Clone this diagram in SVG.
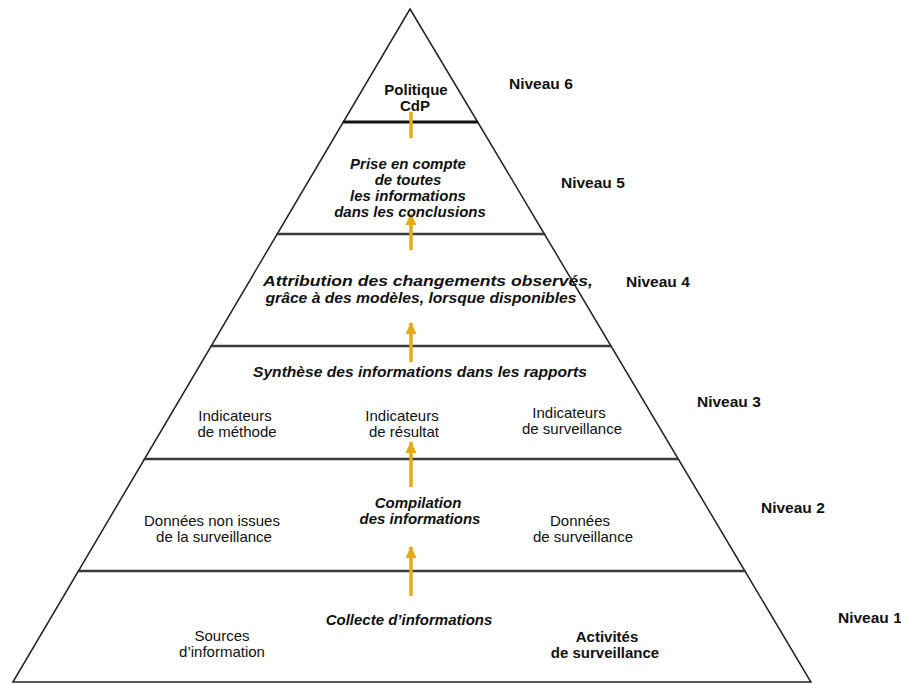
<svg xmlns="http://www.w3.org/2000/svg" width="901" height="684" viewBox="0 0 901 684">
<style>
.tier{fill:#fff;stroke:#222;stroke-width:1.5;stroke-linejoin:miter}
.div{stroke:#3a3a3a;stroke-width:2.5}
.divtop{stroke:#111;stroke-width:3}
text{font-family:"Liberation Sans",Arial,sans-serif;font-size:15px;fill:#111;text-anchor:middle}
.b{font-weight:bold}
.bi{font-weight:bold;font-style:italic}
.lvl{font-weight:bold;text-anchor:start;font-size:15.5px}
.arr{stroke:#E3AC14;stroke-width:3.5;fill:none}
.head{fill:#E3AC14}
</style>
<defs>
<marker id="ah" markerUnits="userSpaceOnUse" markerWidth="12" markerHeight="13" refX="12" refY="6" orient="auto" viewBox="0 0 13 12">
<path d="M0,0 L13,6 L0,12 z" class="head"/>
</marker>
</defs>

<g id="level6">
<polygon class="tier" points="410,9 477.7,122 343.3,122"/>
<text class="b" x="416" y="95">Politique</text>
</g>
<g id="level5">
<polygon class="tier" points="343.3,122 477.7,122 544.4,234 277.2,234"/>
</g>
<g id="level4">
<polygon class="tier" points="277.2,234 544.4,234 611,346 211.2,346"/>
</g>
<g id="level3">
<polygon class="tier" points="211.2,346 611,346 678.3,459 144.5,459"/>
</g>
<g id="level2">
<polygon class="tier" points="144.5,459 678.3,459 744.9,571 78.4,571"/>
</g>
<g id="level1">
<polygon class="tier" points="78.4,571 744.9,571 810.9,682 12.9,682"/>
</g>

<g id="dividers">
<line class="divtop" x1="343.3" y1="122" x2="477.7" y2="122"/>
<line class="div" x1="277.2" y1="234" x2="544.4" y2="234"/>
<line class="div" x1="211.2" y1="346" x2="611" y2="346"/>
<line class="div" x1="144.5" y1="459" x2="678.3" y2="459"/>
<line class="div" x1="78.4" y1="571" x2="744.9" y2="571"/>
</g>

<g id="connectors">
<line class="arr" x1="411" y1="138" x2="411" y2="112"/>
<line class="arr" x1="411" y1="250" x2="411" y2="214" marker-end="url(#ah)"/>
<line class="arr" x1="411" y1="362" x2="411" y2="323" marker-end="url(#ah)"/>
<line class="arr" x1="411" y1="487" x2="411" y2="442" marker-end="url(#ah)"/>
<line class="arr" x1="411" y1="596" x2="411" y2="547" marker-end="url(#ah)"/>
</g>

<g id="level6-text">
<text class="b" x="415" y="111">CdP</text>
</g>
<g id="level5-text">
<text class="bi" x="408" y="169">Prise en compte</text>
<text class="bi" x="408" y="185">de toutes</text>
<text class="bi" x="408" y="201">les informations</text>
<text class="bi" x="410" y="217">dans les conclusions</text>
</g>
<g id="level4-text">
<text class="bi" x="428" y="286" textLength="330" lengthAdjust="spacingAndGlyphs">Attribution des changements observés,</text>
<text class="bi" x="421" y="303" textLength="311" lengthAdjust="spacingAndGlyphs">grâce à des modèles, lorsque disponibles</text>
</g>
<g id="level3-text">
<text class="bi" x="420" y="377" textLength="334" lengthAdjust="spacingAndGlyphs">Synthèse des informations dans les rapports</text>
<text x="235" y="421">Indicateurs</text>
<text x="237" y="437">de méthode</text>
<text x="402" y="421">Indicateurs</text>
<text x="404" y="437">de résultat</text>
<text x="569" y="418">Indicateurs</text>
<text x="572" y="434">de surveillance</text>
</g>
<g id="level2-text">
<text class="bi" x="418" y="508">Compilation</text>
<text class="bi" x="420" y="524">des informations</text>
<text x="212" y="526">Données non issues</text>
<text x="214" y="542">de la surveillance</text>
<text x="580" y="526">Données</text>
<text x="583" y="542">de surveillance</text>
</g>
<g id="level1-text">
<text class="bi" x="409" y="625">Collecte d’informations</text>
<text x="222" y="641">Sources</text>
<text x="222" y="657">d’information</text>
<text class="b" x="607" y="642">Activités</text>
<text class="b" x="605" y="658">de surveillance</text>
</g>

<g id="level-labels">
<text class="lvl" x="509" y="89">Niveau 6</text>
<text class="lvl" x="561" y="188">Niveau 5</text>
<text class="lvl" x="626" y="287">Niveau 4</text>
<text class="lvl" x="697" y="407">Niveau 3</text>
<text class="lvl" x="761" y="513">Niveau 2</text>
<text class="lvl" x="838" y="623">Niveau 1</text>
</g>
</svg>
